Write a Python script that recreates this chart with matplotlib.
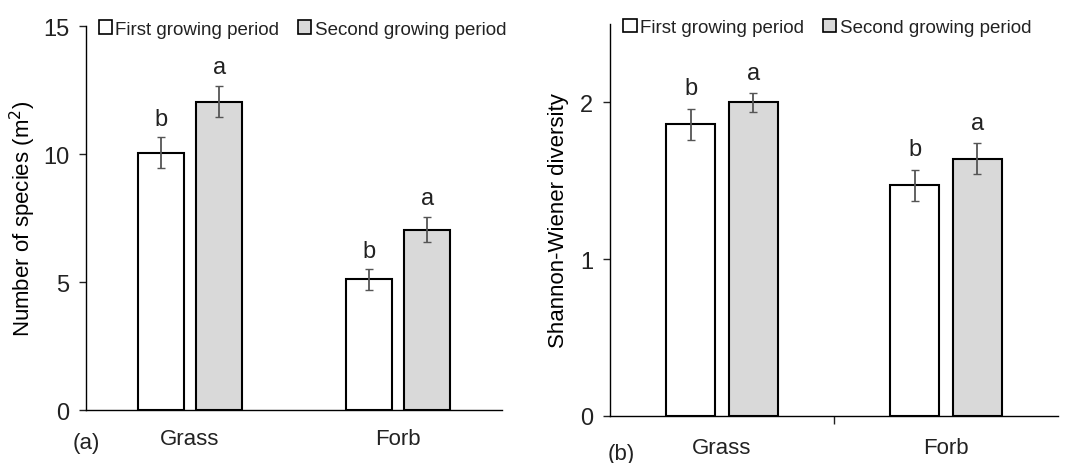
import numpy as np
import matplotlib
matplotlib.use("Agg")
import matplotlib.pyplot as plt
from matplotlib.patches import Patch

plt.rcParams['font.family'] = ['Liberation Sans', 'DejaVu Sans']
plt.rcParams['text.color'] = '#222222'
plt.rcParams['xtick.color'] = '#222222'
plt.rcParams['ytick.color'] = '#222222'

categories = ["Grass", "Forb"]
periods = ["First growing period", "Second growing period"]
colors = ["white", "#d9d9d9"]

# panel (a): number of species
species_first = [10.05, 5.1]
species_second = [12.05, 7.05]
species_err_first = [0.6, 0.4]
species_err_second = [0.6, 0.5]
species_letters_first = ["b", "b"]
species_letters_second = ["a", "a"]

# panel (b): Shannon-Wiener diversity
shannon_first = [1.86, 1.47]
shannon_second = [2.0, 1.64]
shannon_err_first = [0.1, 0.1]
shannon_err_second = [0.06, 0.1]
shannon_letters_first = ["b", "b"]
shannon_letters_second = ["a", "a"]

fig = plt.figure(figsize=(10.65, 4.64), dpi=100)
ax1 = fig.add_axes([0.0808, 0.1142, 0.3906, 0.8276])
ax2 = fig.add_axes([0.5728, 0.102, 0.4206, 0.844])

x = np.arange(len(categories))
w = 0.22
off = 0.14


def draw(ax, first, second, e1, e2, l1, l2, ylim, yticks, ylabel, pad, xpad, lpad):
    ax.bar(x - off, first, w, color=colors[0], edgecolor="black", linewidth=1.5, zorder=2)
    ax.bar(x + off, second, w, color=colors[1], edgecolor="black", linewidth=1.5, zorder=2)
    ax.errorbar(x - off, first, yerr=e1, fmt="none", ecolor="#555555", elinewidth=1.3, capsize=3, zorder=3)
    ax.errorbar(x + off, second, yerr=e2, fmt="none", ecolor="#555555", elinewidth=1.3, capsize=3, zorder=3)
    for i in range(len(x)):
        ax.text(x[i] - off, first[i] + e1[i] + pad, l1[i], ha="center", va="bottom", fontsize=17)
        ax.text(x[i] + off, second[i] + e2[i] + pad, l2[i], ha="center", va="bottom", fontsize=17)
    ax.set_xlim(-0.5, 1.5)
    ax.set_ylim(*ylim)
    ax.set_yticks(yticks)
    ax.set_xticks(x)
    ax.set_xticklabels(categories)
    ax.tick_params(axis="x", length=0, labelsize=16, pad=xpad)
    ax.tick_params(axis="y", length=5, width=1, labelsize=17, direction="out", pad=7)
    ax.spines["top"].set_visible(False)
    ax.spines["right"].set_visible(False)
    ax.spines["left"].set_linewidth(1)
    ax.spines["bottom"].set_linewidth(1)
    ax.set_ylabel(ylabel, fontsize=16, labelpad=lpad)
    handles = [Patch(facecolor=c, edgecolor="black", linewidth=1.2) for c in colors]
    ax.legend(handles, periods, loc="lower left", bbox_to_anchor=(0.03, 0.97), ncol=2,
              frameon=False, fontsize=13.5, handlelength=0.7, handleheight=0.7,
              handletextpad=0.2, columnspacing=1.0, borderaxespad=0, borderpad=0)


draw(ax1, species_first, species_second, species_err_first, species_err_second,
     species_letters_first, species_letters_second, (0, 15), [0, 5, 10, 15],
     "Number of species (m$^2$)", 0.3, 13, 4)
draw(ax2, shannon_first, shannon_second, shannon_err_first, shannon_err_second,
     shannon_letters_first, shannon_letters_second, (0, 2.5), [0, 1, 2],
     "Shannon-Wiener diversity", 0.06, 15, 8)

ax2.set_xticks([0.5], minor=True)
ax2.tick_params(axis="x", which="minor", length=6, width=1, direction="out")

fig.text(0.068, 0.045, "(a)", fontsize=16, ha="left", va="center")
fig.text(0.571, 0.02, "(b)", fontsize=16, ha="left", va="center")

fig.savefig("out.png", dpi=100)
